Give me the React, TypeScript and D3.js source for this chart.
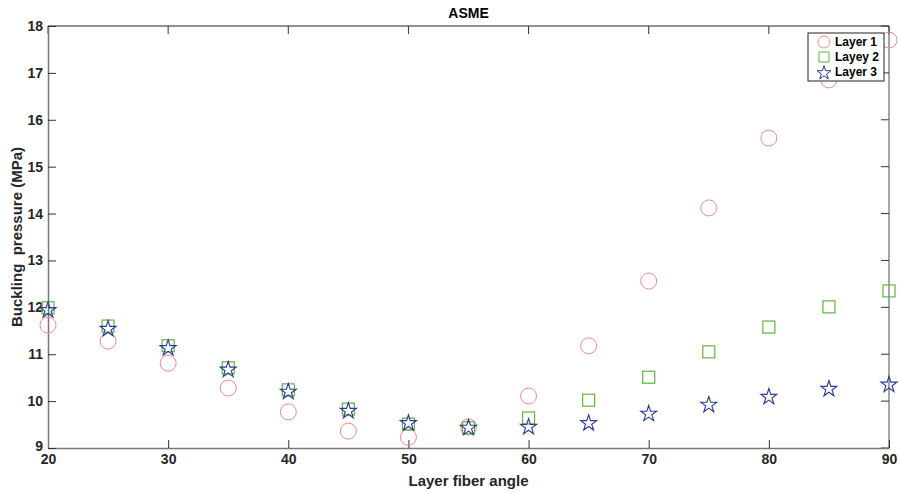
import React, { useRef, useEffect } from 'react';
import * as d3 from 'd3';

const angles = [20, 25, 30, 35, 40, 45, 50, 55, 60, 65, 70, 75, 80, 85, 90];
const layer1 = [11.62, 11.28, 10.81, 10.28, 9.77, 9.36, 9.23, 9.45, 10.11, 11.18, 12.56, 14.12, 15.61, 16.85, 17.70];
const layer2 = [11.99, 11.60, 11.18, 10.71, 10.24, 9.83, 9.51, 9.43, 9.64, 10.02, 10.51, 11.05, 11.58, 12.01, 12.35];
const layer3 = [11.96, 11.56, 11.15, 10.69, 10.22, 9.81, 9.55, 9.45, 9.47, 9.55, 9.75, 9.94, 10.11, 10.28, 10.37];
const xTicks = [20, 30, 40, 50, 60, 70, 80, 90];
const yTicks = [9, 10, 11, 12, 13, 14, 15, 16, 17, 18];

const font = 'Liberation Sans, Arial, sans-serif';

const App = () => {
  const svgRef = useRef<SVGSVGElement>(null);

  useEffect(() => {
    const svg = d3.select(svgRef.current);
    svg.selectAll('*').remove();

    const W = 899, H = 493;
    const margin = { top: 26, left: 48 };

    const x = d3.scaleLinear().domain([20, 90]).range([margin.left, margin.left + 841]);
    const y = d3.scaleLinear().domain([9, 18]).range([448, margin.top]);

    svg.attr('width', W).attr('height', H).style('font-family', font);

    const x0 = x(20), x1 = x(90), y0 = y(9), y1 = y(18);

    // box
    svg.append('line').attr('x1', x0).attr('x2', x1).attr('y1', y1).attr('y2', y1).attr('stroke', '#222');
    svg.append('line').attr('x1', x1).attr('x2', x1).attr('y1', y1).attr('y2', y0).attr('stroke', '#888').attr('stroke-width', 1.5);

    // mirrored ticks on right & top
    yTicks.forEach(t => {
      svg.append('line').attr('x1', x1).attr('x2', x1 - 8).attr('y1', y(t)).attr('y2', y(t)).attr('stroke', '#333');
    });
    xTicks.forEach(t => {
      svg.append('line').attr('x1', x(t)).attr('x2', x(t)).attr('y1', y1).attr('y2', y1 + 8).attr('stroke', '#333');
    });

    const xAxis = svg.append('g')
      .attr('transform', `translate(0,${y0})`)
      .call(d3.axisBottom(x).tickValues(xTicks).tickSize(-8).tickSizeOuter(0).tickPadding(6));
    xAxis.select('.domain').attr('stroke', '#777').attr('stroke-width', 1.5);
    xAxis.selectAll('.tick line').attr('stroke', '#333');
    xAxis.selectAll('text').attr('font-size', 14).attr('font-weight', 'bold').attr('fill', '#262626').attr('font-family', font);

    const yAxis = svg.append('g')
      .attr('transform', `translate(${x0},0)`)
      .call(d3.axisLeft(y).tickValues(yTicks).tickSize(-8).tickSizeOuter(0).tickPadding(5));
    yAxis.select('.domain').attr('stroke', '#777').attr('stroke-width', 1.5);
    yAxis.selectAll('.tick line').attr('stroke', '#333');
    yAxis.selectAll('text').attr('font-size', 14).attr('font-weight', 'bold').attr('fill', '#262626').attr('font-family', font);
    // lift the "9" a touch so it clears the "20" below it
    yAxis.selectAll('.tick').filter(d => d === 9).select('text').attr('dy', '0.2em');

    // title & labels
    svg.append('text').attr('x', (x0 + x1) / 2).attr('y', 18).attr('text-anchor', 'middle')
      .attr('font-size', 14).attr('font-weight', 'bold').text('ASME');
    svg.append('text').attr('x', (x0 + x1) / 2).attr('y', 486).attr('text-anchor', 'middle')
      .attr('font-size', 15).attr('font-weight', 'bold').attr('fill', '#262626').text('Layer fiber angle');
    svg.append('text').attr('transform', `translate(22,${(y0 + y1) / 2}) rotate(-90)`)
      .attr('text-anchor', 'middle').attr('font-size', 15).attr('font-weight', 'bold').attr('fill', '#262626')
      .attr('xml:space', 'preserve').style('white-space', 'pre').text('Buckling  pressure (MPa)');

    const red = '#f08a8a', green = '#5cb83a', blue = '#2a3a9c';
    const star = d3.symbol().type(d3.symbolStar).size(80);

    const g = svg.append('g');
    g.selectAll('.c').data(angles).enter().append('circle')
      .attr('cx', d => x(d)).attr('cy', (d, i) => y(layer1[i])).attr('r', 8)
      .attr('fill', 'none').attr('stroke', red).attr('stroke-width', 1);
    g.selectAll('.s').data(angles).enter().append('rect')
      .attr('x', d => x(d) - 6).attr('y', (d, i) => y(layer2[i]) - 6).attr('width', 12).attr('height', 12)
      .attr('fill', 'none').attr('stroke', green).attr('stroke-width', 1.2);
    g.selectAll('.p').data(angles).enter().append('path')
      .attr('d', star)
      .attr('transform', (d, i) => `translate(${x(d)},${y(layer3[i]) + 1})`)
      .attr('fill', 'none').attr('stroke', blue).attr('stroke-width', 1.1);

    // legend
    const lg = svg.append('g').attr('transform', 'translate(808,33)');
    lg.append('rect').attr('width', 76).attr('height', 48).attr('fill', 'white').attr('stroke', '#222');
    const items = [
      { name: 'Layer 1', kind: 'c', color: red },
      { name: 'Layey 2', kind: 's', color: green },
      { name: 'Layer 3', kind: 'p', color: blue },
    ];
    items.forEach((it, i) => {
      const cy = 9 + i * 15;
      if (it.kind === 'c') lg.append('circle').attr('cx', 16).attr('cy', cy).attr('r', 6).attr('fill', 'none').attr('stroke', it.color);
      if (it.kind === 's') lg.append('rect').attr('x', 11).attr('y', cy - 5).attr('width', 10).attr('height', 10).attr('fill', 'none').attr('stroke', it.color);
      if (it.kind === 'p') lg.append('path').attr('d', d3.symbol().type(d3.symbolStar).size(60)).attr('transform', `translate(16,${cy + 1})`).attr('fill', 'none').attr('stroke', it.color);
      lg.append('text').attr('x', 27).attr('y', cy + 4).attr('font-size', 12).attr('font-weight', 'bold').text(it.name);
    });
  }, []);

  return <svg ref={svgRef} style={{ position: 'absolute', left: 0, top: 0 }} />;
};

export default App;
